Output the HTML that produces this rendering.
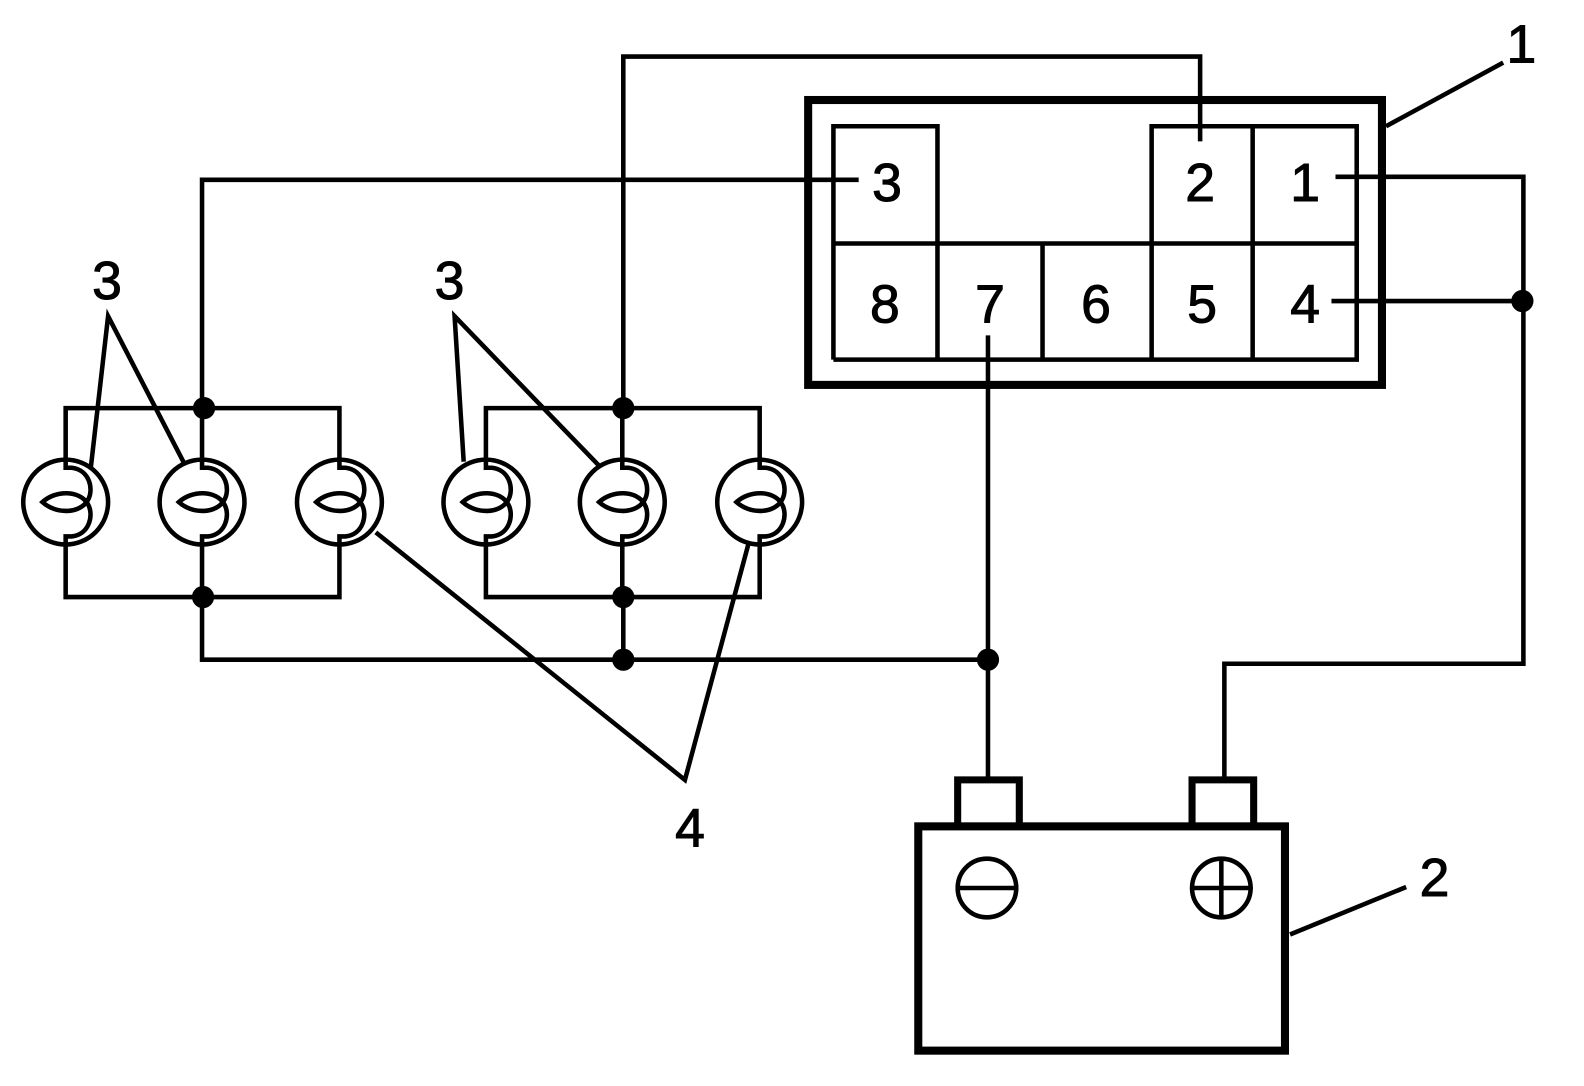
<!DOCTYPE html>
<html><head><meta charset="utf-8"><style>
html,body{margin:0;padding:0;background:#fff;}
svg{display:block;}
text{font-family:"Liberation Sans",sans-serif;font-size:53px;fill:#000;stroke:#000;stroke-width:1;text-anchor:middle;}
</style></head><body>
<svg width="1584" height="1086" viewBox="0 0 1568 1075" preserveAspectRatio="none" xmlns="http://www.w3.org/2000/svg">
<defs>
<g id="bulb">
<circle cx="0" cy="0" r="42" fill="#fff" stroke="#000" stroke-width="4.5"/>
<path d="M0,-44 V-34 H6 C24,-32 28,-12 22,-2 C14,12 -10,12 -23,0 C-10,-12 14,-12 22,2 C28,12 24,32 6,34 H0 V44" fill="none" stroke="#000" stroke-width="4.5"/>
</g>
</defs>
<g fill="none" stroke="#000" stroke-width="4.5">
<path d="M65,455 V404 H336 V455 M200,404 V455 M65,539 V591 H336 V539 M200,539 V591"/>
<path d="M481,455 V404 H752 V455 M616,404 V455 M481,539 V591 H752 V539 M616,539 V591"/>
<path d="M200,404 V178 H850"/>
<path d="M617,404 V56 H1188 V140"/>
<path d="M1322,175 H1508 V657 H1212 V771"/>
<path d="M1318,298 H1508"/>
<path d="M978,332 V771"/>
<path d="M200,591 V653 H978 M617,591 V653"/>
<rect x="800" y="99" width="568" height="282" stroke-width="8"/>
<path d="M825,356 V125 H928 V356 M1140,356 V125 H1343 V356 H825 M825,241 H1343 M1032,241 V358 M1240,125 V356"/>
<rect x="909" y="818" width="363" height="222" stroke-width="8"/>
<path d="M948,818 V772 H1009 V818 M1180,818 V772 H1241 V818" stroke-width="7"/>
<circle cx="977" cy="879" r="29"/>
<path d="M947,879 H1008"/>
<circle cx="1209" cy="879" r="29"/>
<path d="M1179,879 H1240 M1209,850 V908"/>
<path d="M1372,125 L1488,62"/>
<path d="M1277,925 L1392,878"/>
<path d="M90,462 L107,313 L182,458"/>
<path d="M459,457 L450,313 L593,461"/>
<path d="M372,527 L678,772 L741,538"/>
</g>
<use href="#bulb" x="65" y="497"/>
<use href="#bulb" x="200" y="497"/>
<use href="#bulb" x="336" y="497"/>
<use href="#bulb" x="481" y="497"/>
<use href="#bulb" x="616" y="497"/>
<use href="#bulb" x="752" y="497"/>
<g fill="#000">
<circle cx="202" cy="404" r="11"/>
<circle cx="201" cy="591" r="11"/>
<circle cx="617" cy="404" r="11"/>
<circle cx="617" cy="591" r="11"/>
<circle cx="617" cy="653" r="11"/>
<circle cx="978" cy="653" r="11"/>
<circle cx="1507" cy="298" r="11"/>
</g>
<text x="878" y="199">3</text>
<text x="1188" y="199">2</text>
<text x="1292" y="199">1</text>
<text x="876" y="319">8</text>
<text x="980" y="319">7</text>
<text x="1085" y="319">6</text>
<text x="1190" y="319">5</text>
<text x="1292" y="319">4</text>
<text x="1506" y="62">1</text>
<text x="1420" y="887">2</text>
<text x="106" y="296">3</text>
<text x="445" y="296">3</text>
<text x="683" y="838">4</text>
</svg>
</body></html>
